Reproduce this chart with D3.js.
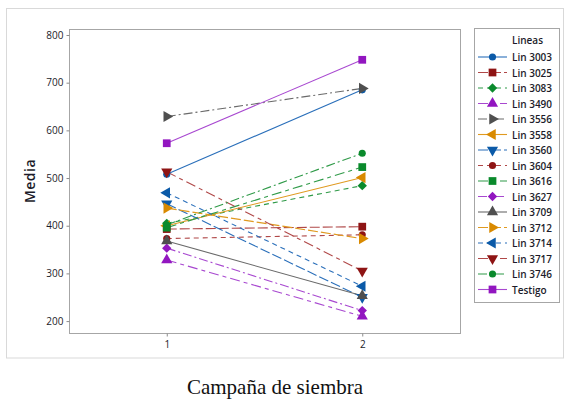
<!DOCTYPE html>
<html>
<head>
<meta charset="utf-8">
<script src="https://cdn.jsdelivr.net/npm/d3@7"></script>
<style>
  html, body { margin: 0; padding: 0; background: #fff; }
  svg { display: block; }
</style>
</head>
<body>
<svg id="chart" width="565" height="401"></svg>
<script>
// Interaction plot: mean yield per line across two sowing campaigns
const campaigns = [1, 2];
const yTicks = [200, 300, 400, 500, 600, 700, 800];
const lineNames = ["Lin 3003", "Lin 3025", "Lin 3083", "Lin 3490", "Lin 3556", "Lin 3558",
  "Lin 3560", "Lin 3604", "Lin 3616", "Lin 3627", "Lin 3709", "Lin 3712",
  "Lin 3714", "Lin 3717", "Lin 3746", "Testigo"];
const mediaCampaign1 = [508, 393, 405, 328, 629, 400, 446, 373, 396, 353, 368, 437, 469, 513, 402, 573];
const mediaCampaign2 = [685, 398, 484, 210, 688, 501, 250, 381, 523, 222, 253, 373, 273, 305, 552, 748];

// Style cycles (colour every 6, symbol every 7, dash every 5)
const markerColors = ["#0b5aa8", "#8e1414", "#0a8a2c", "#9216c0", "#4f4f4f", "#d98a00"];
const strokeColors = ["#2a6fba", "#b04848", "#2f9a48", "#a848d0", "#6a6a6a", "#e09a20"];
const symbolDefs = [
  { type: d3.symbolCircle, size: 40, rot: 0 },
  { type: d3.symbolSquare, size: 60, rot: 0 },
  { type: d3.symbolSquare, size: 44, rot: 45 },
  { type: d3.symbolTriangle, size: 54, rot: 0 },
  { type: d3.symbolTriangle, size: 54, rot: 90 },
  { type: d3.symbolTriangle, size: 54, rot: -90 },
  { type: d3.symbolTriangle, size: 54, rot: 180 }
];
const dashes = [null, "10,3", "5,4", "10,4,4,4", "9,3,2,3"];

const series = lineNames.map((name, i) => ({
  name,
  values: [mediaCampaign1[i], mediaCampaign2[i]],
  marker: markerColors[i % 6],
  stroke: strokeColors[i % 6],
  symbol: symbolDefs[i % 7],
  dash: dashes[i % 5]
}));

const svg = d3.select("#chart");
const plot = { left: 69, right: 460, top: 29, bottom: 333 };

// Outer frame
svg.append("rect")
  .attr("x", 6.5).attr("y", 8.5).attr("width", 557).attr("height", 349.5)
  .attr("fill", "none").attr("stroke", "#d9d9d9").attr("stroke-width", 1);

const x = d3.scaleLinear().domain([0.5, 2.5]).range([plot.left, plot.right]);
const y = d3.scaleLinear().domain([175, 812.6]).range([plot.bottom, plot.top]);

// Plot area border
svg.append("rect")
  .attr("x", plot.left + 0.5).attr("y", plot.top + 0.5)
  .attr("width", plot.right - plot.left).attr("height", plot.bottom - plot.top)
  .attr("fill", "none").attr("stroke", "#a6a6a6").attr("stroke-width", 1);

const tickFont = "'Open Sans', 'Noto Sans', sans-serif";

// Y axis
const yAxis = svg.append("g")
  .attr("transform", `translate(${plot.left + 0.5},0)`)
  .call(d3.axisLeft(y).tickValues(yTicks).tickSize(3).tickPadding(3));
yAxis.select(".domain").remove();
yAxis.selectAll(".tick line").attr("stroke", "#8c8c8c");
yAxis.selectAll(".tick text")
  .attr("fill", "#1c1c2a").style("font-family", tickFont).style("font-size", "10px");

// X axis
const xAxis = svg.append("g")
  .attr("transform", `translate(0,${plot.bottom + 0.5})`)
  .call(d3.axisBottom(x).tickValues(campaigns).tickFormat(d3.format("d")).tickSize(3).tickPadding(4));
xAxis.select(".domain").remove();
xAxis.selectAll(".tick line").attr("stroke", "#8c8c8c");
xAxis.selectAll(".tick text")
  .attr("fill", "#1c1c2a").style("font-family", tickFont).style("font-size", "10px");

// Axis titles
svg.append("text")
  .attr("transform", `translate(35,${(plot.top + plot.bottom) / 2}) rotate(-90)`)
  .attr("text-anchor", "middle")
  .style("font-family", tickFont).style("font-size", "14px").style("font-weight", "600")
  .style("letter-spacing", "0.5px")
  .attr("fill", "#1c1c2a")
  .text("Media");

svg.append("text")
  .attr("x", 275).attr("y", 394)
  .attr("text-anchor", "middle")
  .style("font-family", "'Liberation Serif', 'Times New Roman', serif").style("font-size", "21px")
  .attr("fill", "#111")
  .text("Campaña de siembra");

const symbolPath = s => d3.symbol().type(s.type).size(s.size)();

// Series lines and markers
const lineGen = d3.line().x((d, i) => x(campaigns[i])).y(d => y(d));
const g = svg.append("g");
series.forEach(s => {
  g.append("path")
    .attr("d", lineGen(s.values))
    .attr("fill", "none")
    .attr("stroke", s.stroke)
    .attr("stroke-width", 1.1)
    .attr("stroke-dasharray", s.dash);
});
series.forEach(s => {
  s.values.forEach((v, i) => {
    g.append("path")
      .attr("d", symbolPath(s.symbol))
      .attr("transform", `translate(${x(campaigns[i])},${y(v)}) rotate(${s.symbol.rot})`)
      .attr("fill", s.marker);
  });
});

// Legend
const legend = svg.append("g");
legend.append("rect")
  .attr("x", 474.5).attr("y", 28.5).attr("width", 85).attr("height", 274)
  .attr("fill", "#fff").attr("stroke", "#a6a6a6");
legend.append("text")
  .attr("x", 512).attr("y", 44)
  .style("font-family", tickFont).style("font-size", "10px").style("font-weight", "600")
  .attr("fill", "#1c1c2a")
  .text("Lineas");
series.forEach((s, i) => {
  const cy = 57 + i * 15.5;
  const row = legend.append("g").attr("transform", `translate(0,${cy})`);
  row.append("line")
    .attr("x1", 478).attr("x2", 507).attr("y1", 0).attr("y2", 0)
    .attr("stroke", s.stroke).attr("stroke-width", 1.1)
    .attr("stroke-dasharray", s.dash);
  row.append("path")
    .attr("d", symbolPath(s.symbol))
    .attr("transform", `translate(492.5,0) rotate(${s.symbol.rot})`)
    .attr("fill", s.marker);
  row.append("text")
    .attr("x", 512).attr("y", 4)
    .style("font-family", tickFont).style("font-size", "10px").style("font-weight", "600")
    .attr("fill", "#1c1c2a")
    .text(s.name);
});
</script>
</body>
</html>
